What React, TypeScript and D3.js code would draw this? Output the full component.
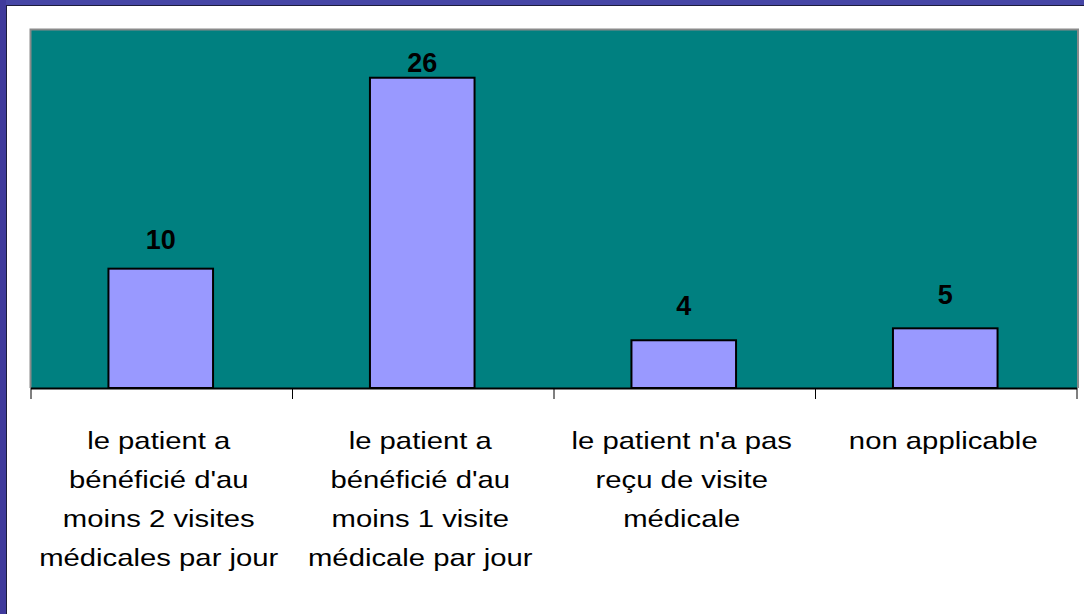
import React from "react";
import { scaleBand, scaleLinear } from "d3";

const categories = [
  ["le patient a", "bénéficié d'au", "moins 2 visites", "médicales par jour"],
  ["le patient a", "bénéficié d'au", "moins 1 visite", "médicale par jour"],
  ["le patient n'a pas", "reçu de visite", "médicale"],
  ["non applicable"],
];
const values = [10, 26, 4, 5];

const W = 1084;
const H = 614;
const plot = { left: 31, right: 1077, top: 30, bottom: 388 };

function App() {
  const x = scaleBand<number>()
    .domain(values.map((_, i) => i))
    .range([plot.left, plot.right])
    .paddingInner(0)
    .paddingOuter(0);
  const y = scaleLinear().domain([0, 30]).range([plot.bottom, plot.top]);
  // value labels in the original sit on a slightly compressed scale
  const yLabel = scaleLinear().domain([0, 30]).range([plot.bottom - 29, plot.top - 2]);
  const barW = x.bandwidth() * 0.4;
  const ticks = [...values.map((_, i) => x(i)!), plot.right];

  return (
    <svg
      width={W}
      height={H}
      style={{ position: "absolute", left: 0, top: 0 }}
      fontFamily="'Liberation Sans', Arial, sans-serif"
    >
      <rect x={0} y={0} width={W} height={H} fill="#fff" />
      {/* frame */}
      <rect x={0} y={0} width={W} height={5} fill="#4646a6" />
      <rect x={0} y={0} width={6} height={H} fill="#3f3a9c" />
      <line x1={6.5} y1={5} x2={6.5} y2={H} stroke="#1c1c3c" />
      <line x1={6} y1={5.5} x2={W} y2={5.5} stroke="#1c1c3c" />

      {/* plot area */}
      <rect
        x={plot.left}
        y={plot.top}
        width={plot.right - plot.left}
        height={plot.bottom - plot.top}
        fill="#008080"
      />
      <path
        d={`M${plot.left - 0.5},${plot.bottom}V${plot.top - 0.5}H${plot.right + 1}V${plot.bottom}`}
        fill="none"
        stroke="#8a8a8a"
        strokeWidth={2}
      />

      {values.map((v, i) => {
        const cx = x(i)! + x.bandwidth() / 2 - 1;
        return (
          <g key={i}>
            <rect
              x={cx - barW / 2}
              y={y(v)}
              width={barW}
              height={plot.bottom - y(v)}
              fill="#9999ff"
              stroke="#000"
              strokeWidth={2}
            />
            <text
              x={cx}
              y={yLabel(v)}
              textAnchor="middle"
              fontSize={27}
              fontWeight="bold"
              fill="#000"
            >
              {v}
            </text>
            {categories[i].map((line, j) => (
              <text
                key={j}
                transform={`translate(${cx - 2},${449 + j * 39}) scale(1.22,1)`}
                textAnchor="middle"
                fontSize={24}
                fill="#000"
              >
                {line}
              </text>
            ))}
          </g>
        );
      })}

      {/* axis */}
      <line x1={plot.left} y1={plot.bottom + 0.5} x2={plot.right} y2={plot.bottom + 0.5} stroke="#000" strokeWidth={2} />
      {ticks.map((t, i) => (
        <line key={i} x1={t} y1={plot.bottom} x2={t} y2={plot.bottom + 11} stroke="#000" strokeWidth={1} />
      ))}
    </svg>
  );
}

export default App;
